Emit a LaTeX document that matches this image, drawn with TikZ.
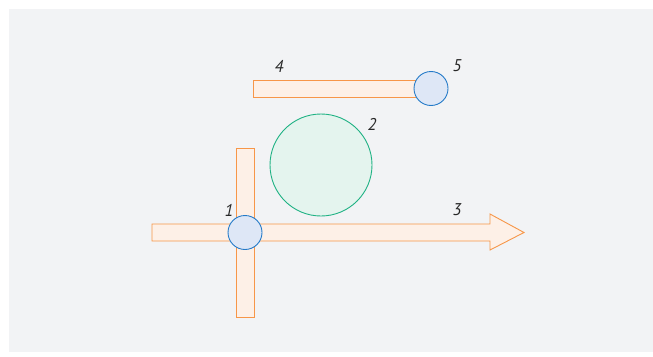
\documentclass[tikz,border=0pt]{standalone}
\usepackage{fontspec}
\setmainfont{PT Sans}
\usetikzlibrary{positioning}
\definecolor{BarOrange}{RGB}{247,150,72}
\definecolor{BarFill}{RGB}{253,240,231}
\definecolor{JointBlue}{RGB}{36,122,200}
\definecolor{JointFill}{RGB}{222,231,246}
\definecolor{BallGreen}{RGB}{32,178,132}
\definecolor{BallFill}{RGB}{228,244,238}
\definecolor{BackGray}{RGB}{242,243,245}
\definecolor{LabelGray}{RGB}{40,40,40}

\begin{document}
\begin{tikzpicture}[x=1pt,y=-1pt,
    bar/.style={draw=BarOrange,fill=BarFill,line width=0.9pt,inner sep=0pt},
    joint/.style={circle,draw=JointBlue,fill=JointFill,line width=0.9pt,
                  minimum size=34pt,inner sep=0pt},
    ball/.style={circle,draw=BallGreen,fill=BallFill,line width=0.9pt,
                 minimum size=102pt,inner sep=0pt},
    lbl/.style={font=\itshape\fontsize{17}{20}\selectfont,text=LabelGray,inner sep=0pt}]

    % Background
    \fill[BackGray] (9,9) rectangle (653,352);
    \useasboundingbox (0,0) rectangle (653,356);

    % Arrow
    \draw[bar,line join=miter] (152,224) -- (490,224) -- (490,214) -- (524,232.5)
        -- (490,250) -- (490,241) -- (152,241) -- cycle;

    % Bars
    \node[bar,minimum width=18pt,minimum height=169pt] (post) at (245,232.5) {};
    \node[bar,minimum width=177pt,minimum height=17pt] (beam) at (341.5,88.5) {};

    % Circles
    \node[ball] (B2) at (321,165) {};
    \node[joint] (J1) at (245,232.5) {};
    \node[joint] (J5) at (431,88.5) {};

    % Labels
    \node[lbl] (L1) at (229,210) {1};
    \node[lbl] (L2) at (372,124) {2};
    \node[lbl] (L3) at (457,210) {3};
    \node[lbl] (L4) at (279,66) {4};
    \node[lbl] (L5) at (457,66) {5};
\end{tikzpicture}
\end{document}
